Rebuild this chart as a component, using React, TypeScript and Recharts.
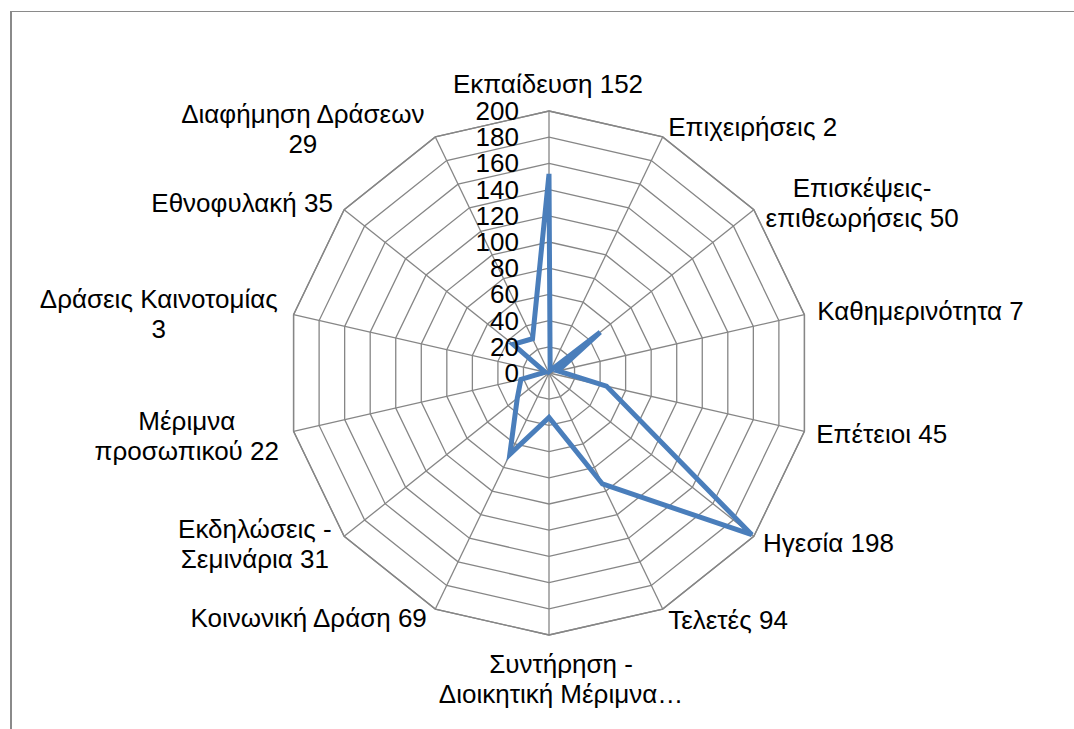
import React from 'react';
import { RadarChart, Radar, PolarGrid, PolarAngleAxis, PolarRadiusAxis } from 'recharts';

const categories = [
  'Εκπαίδευση',
  'Επιχειρήσεις',
  'Επισκέψεις-επιθεωρήσεις',
  'Καθημερινότητα',
  'Επέτειοι',
  'Ηγεσία',
  'Τελετές',
  'Συντήρηση - Διοικητική Μέριμνα',
  'Κοινωνική Δράση',
  'Εκδηλώσεις - Σεμινάρια',
  'Μέριμνα προσωπικού',
  'Δράσεις Καινοτομίας',
  'Εθνοφυλακή',
  'Διαφήμηση Δράσεων',
];

const values = [152, 2, 50, 7, 45, 198, 94, 34, 69, 31, 22, 3, 35, 29];

const tickLabels = [
  'Εκπαίδευση 152',
  'Επιχειρήσεις 2',
  'Επισκέψεις-\nεπιθεωρήσεις 50',
  'Καθημερινότητα 7',
  'Επέτειοι 45',
  'Ηγεσία 198',
  'Τελετές 94',
  'Συντήρηση -\nΔιοικητική Μέριμνα…',
  'Κοινωνική Δράση 69',
  'Εκδηλώσεις -\nΣεμινάρια 31',
  'Μέριμνα\nπροσωπικού 22',
  'Δράσεις Καινοτομίας\n3',
  'Εθνοφυλακή 35',
  'Διαφήμηση Δράσεων\n29',
];

const radiusTicks = [0, 20, 40, 60, 80, 100, 120, 140, 160, 180, 200];

const data = categories.map((c, i) => ({ category: c, value: values[i], label: tickLabels[i] }));

// label placement (anchor, dx, dy relative to the angle-axis tick point)
const labelLayout: { anchor: 'start' | 'middle' | 'end'; dx: number; dy: number }[] = [
  { anchor: 'middle', dx: -1, dy: -10 },
  { anchor: 'start', dx: 2, dy: 6 },
  { anchor: 'middle', dx: 102, dy: -8 },
  { anchor: 'start', dx: 5, dy: 7 },
  { anchor: 'start', dx: 4, dy: 10 },
  { anchor: 'start', dx: 3, dy: 11 },
  { anchor: 'start', dx: 2, dy: 13 },
  { anchor: 'middle', dx: 12, dy: 30 },
  { anchor: 'end', dx: -5, dy: 11 },
  { anchor: 'middle', dx: -83, dy: -3 },
  { anchor: 'middle', dx: -99, dy: -3 },
  { anchor: 'middle', dx: -127, dy: -5 },
  { anchor: 'end', dx: -5, dy: 7 },
  { anchor: 'middle', dx: -129, dy: -7 },
];

const FONT = '"Liberation Sans", Arial, sans-serif';
const FONT_SIZE = 26;
const LINE_H = 30;

const AngleTick = (props: any) => {
  const { x, y, payload, index } = props;
  const i = typeof index === 'number' ? index : categories.indexOf(payload.value);
  const lay = labelLayout[i] || { anchor: 'middle', dx: 0, dy: 0 };
  const lines = tickLabels[i].split('\n');
  return (
    <text
      x={x + lay.dx}
      y={y + lay.dy}
      textAnchor={lay.anchor}
      fontFamily={FONT}
      fontSize={FONT_SIZE}
      fill="#000"
    >
      {lines.map((l, k) => (
        <tspan key={k} x={x + lay.dx} dy={k === 0 ? 0 : LINE_H}>
          {l}
        </tspan>
      ))}
    </text>
  );
};

const RadiusTick = (props: any) => {
  const { x, y, payload } = props;
  return (
    <text x={x - 30} y={y + 9} textAnchor="end" fontFamily={FONT} fontSize={FONT_SIZE} fill="#000">
      {payload.value}
    </text>
  );
};

export default function App() {
  return (
    <div>
      <div
        style={{
          position: 'fixed',
          left: 10,
          top: 11,
          right: 0,
          bottom: 0,
          borderTop: '1px solid #8a8a8a',
          borderLeft: '2px solid #8a8a8a',
          background: '#fff',
        }}
      />
      <div style={{ position: 'fixed', left: 0, top: 0, width: 1074, height: 729 }}>
        <RadarChart width={1074} height={729} data={data} cx={549} cy={373} outerRadius={262} startAngle={90} endAngle={-270}>
          <PolarGrid gridType="polygon" stroke="#868686" strokeWidth={1.3} />
          <PolarAngleAxis
            dataKey="category"
            tick={<AngleTick />}
            tickLine={false}
            axisLine={{ stroke: '#868686', strokeWidth: 1.3 }}
          />
          <PolarRadiusAxis
            angle={90}
            domain={[0, 200]}
            ticks={radiusTicks}
            tickCount={11}
            axisLine={false}
            tickLine={false}
            tick={<RadiusTick />}
          />
          <Radar
            dataKey="value"
            stroke="#4a7ebb"
            strokeWidth={5}
            fill="none"
            fillOpacity={0}
            dot={false}
            isAnimationActive={false}
          />
        </RadarChart>
      </div>
    </div>
  );
}
